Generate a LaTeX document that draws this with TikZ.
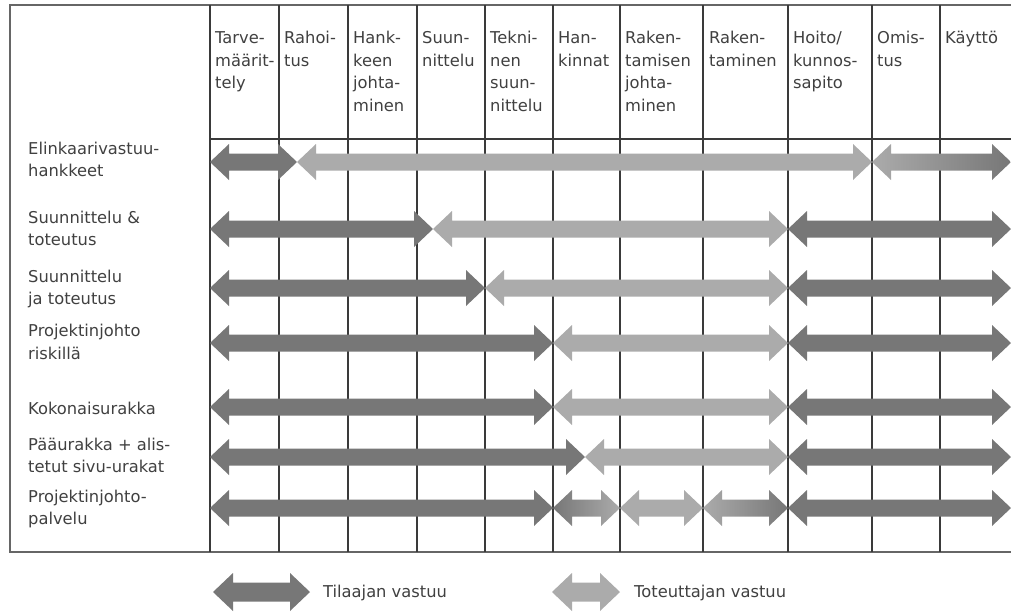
\documentclass[tikz,border=0pt]{standalone}
\usepackage{fontspec}
\setmainfont{DejaVu Sans}
\definecolor{dk}{HTML}{777777}
\definecolor{lt}{HTML}{ABABAB}
\definecolor{txt}{HTML}{404040}
\definecolor{rule}{HTML}{3A3A3A}
\newcommand\dbarrow[4]{%
  \path[#4] (#1,#3) -- (#1+19,#3-18) -- (#1+19,#3-8.5) -- (#2-19,#3-8.5) -- (#2-19,#3-18) -- (#2,#3) -- (#2-19,#3+18) -- (#2-19,#3+8.5) -- (#1+19,#3+8.5) -- (#1+19,#3+18) -- cycle;}
\newcommand\legarrow[4]{%
  \path[#4] (#1,#3) -- (#1+20,#3-19) -- (#1+20,#3-9.5) -- (#2-20,#3-9.5) -- (#2-20,#3-19) -- (#2,#3) -- (#2-20,#3+19) -- (#2-20,#3+9.5) -- (#1+20,#3+9.5) -- (#1+20,#3+19) -- cycle;}
\tikzset{
  dkarr/.style={fill=dk},
  ltarr/.style={fill=lt},
  dklt/.style={left color=dk, right color=lt},
  ltdk/.style={left color=lt, right color=dk},
  gridline/.style={draw=rule, line width=1.2pt},
  frame/.style={draw=black!60, line width=1.8pt},
  head/.style={anchor=base west, align=left, text=txt, font=\fontsize{16.3}{22.5}\selectfont, inner sep=0pt},
  rowlab/.style={anchor=base west, align=left, text=txt, font=\fontsize{16.3}{22.5}\selectfont, inner sep=0pt},
  leg/.style={anchor=base west, text=txt, font=\fontsize{16.3}{22.5}\selectfont, inner sep=0pt}
}
\begin{document}
\begin{tikzpicture}[x=1pt,y=-1pt]
\useasboundingbox (0,0) rectangle (1011,611);
% frame
\draw[frame] (1011,5) -- (10,5) -- (10,552) -- (210,552);
\draw[frame] (210,552) -- (1011,552);
% header bottom
\draw[gridline] (210,139) -- (1011,139);
% column lines
\foreach \x in {210,279,348,417,485,553,620,703,788,872,940}
  \draw[gridline] (\x,5) -- (\x,552);
% header texts (anchored at the baseline of their last line)
\node[head] (h1) at (215,88.5) {Tarve-\\määrit-\\tely};
\node[head] (h2) at (284,66) {Rahoi-\\tus};
\node[head] (h3) at (353,111) {Hank-\\keen\\johta-\\minen};
\node[head] (h4) at (422,66) {Suun-\\nittelu};
\node[head] (h5) at (490,111) {Tekni-\\nen\\suun-\\nittelu};
\node[head] (h6) at (558,66) {Han-\\kinnat};
\node[head] (h7) at (625,111) {Raken-\\tamisen\\johta-\\minen};
\node[head] (h8) at (709,66) {Raken-\\taminen};
\node[head] (h9) at (793,88.5) {Hoito/\\kunnos-\\sapito};
\node[head] (h10) at (877,66) {Omis-\\tus};
\node[head] (h11) at (945,43.5) {Käyttö};
% row labels
\node[rowlab] (r1) at (28,176.5) {Elinkaarivastuu-\\hankkeet};
\node[rowlab] (r2) at (28,245.5) {Suunnittelu \&\\toteutus};
\node[rowlab] (r3) at (28,304.5) {Suunnittelu\\ja toteutus};
\node[rowlab] (r4) at (28,359) {Projektinjohto\\riskillä};
\node[rowlab] (r5) at (28,414) {Kokonaisurakka};
\node[rowlab] (r6) at (28,472.5) {Pääurakka + alis-\\tetut sivu-urakat};
\node[rowlab] (r7) at (28,524.5) {Projektinjohto-\\palvelu};
% arrows
\dbarrow{210}{297}{162}{dkarr}
\dbarrow{297}{872}{162}{ltarr}
\dbarrow{872}{1011}{162}{ltdk}
\dbarrow{210}{433}{229}{dkarr}
\dbarrow{433}{788}{229}{ltarr}
\dbarrow{788}{1011}{229}{dkarr}
\dbarrow{210}{485}{288}{dkarr}
\dbarrow{485}{788}{288}{ltarr}
\dbarrow{788}{1011}{288}{dkarr}
\dbarrow{210}{553}{343}{dkarr}
\dbarrow{553}{788}{343}{ltarr}
\dbarrow{788}{1011}{343}{dkarr}
\dbarrow{210}{553}{407}{dkarr}
\dbarrow{553}{788}{407}{ltarr}
\dbarrow{788}{1011}{407}{dkarr}
\dbarrow{210}{585}{457}{dkarr}
\dbarrow{585}{788}{457}{ltarr}
\dbarrow{788}{1011}{457}{dkarr}
\dbarrow{210}{553}{508}{dkarr}
\dbarrow{553}{620}{508}{dklt}
\dbarrow{620}{703}{508}{ltarr}
\dbarrow{703}{788}{508}{ltdk}
\dbarrow{788}{1011}{508}{dkarr}
% legend
\legarrow{213}{310}{592}{dkarr}
\node[leg] (l1) at (323,597) {Tilaajan vastuu};
\legarrow{552}{620}{592}{ltarr}
\node[leg] (l2) at (634,597) {Toteuttajan vastuu};
\end{tikzpicture}
\end{document}
